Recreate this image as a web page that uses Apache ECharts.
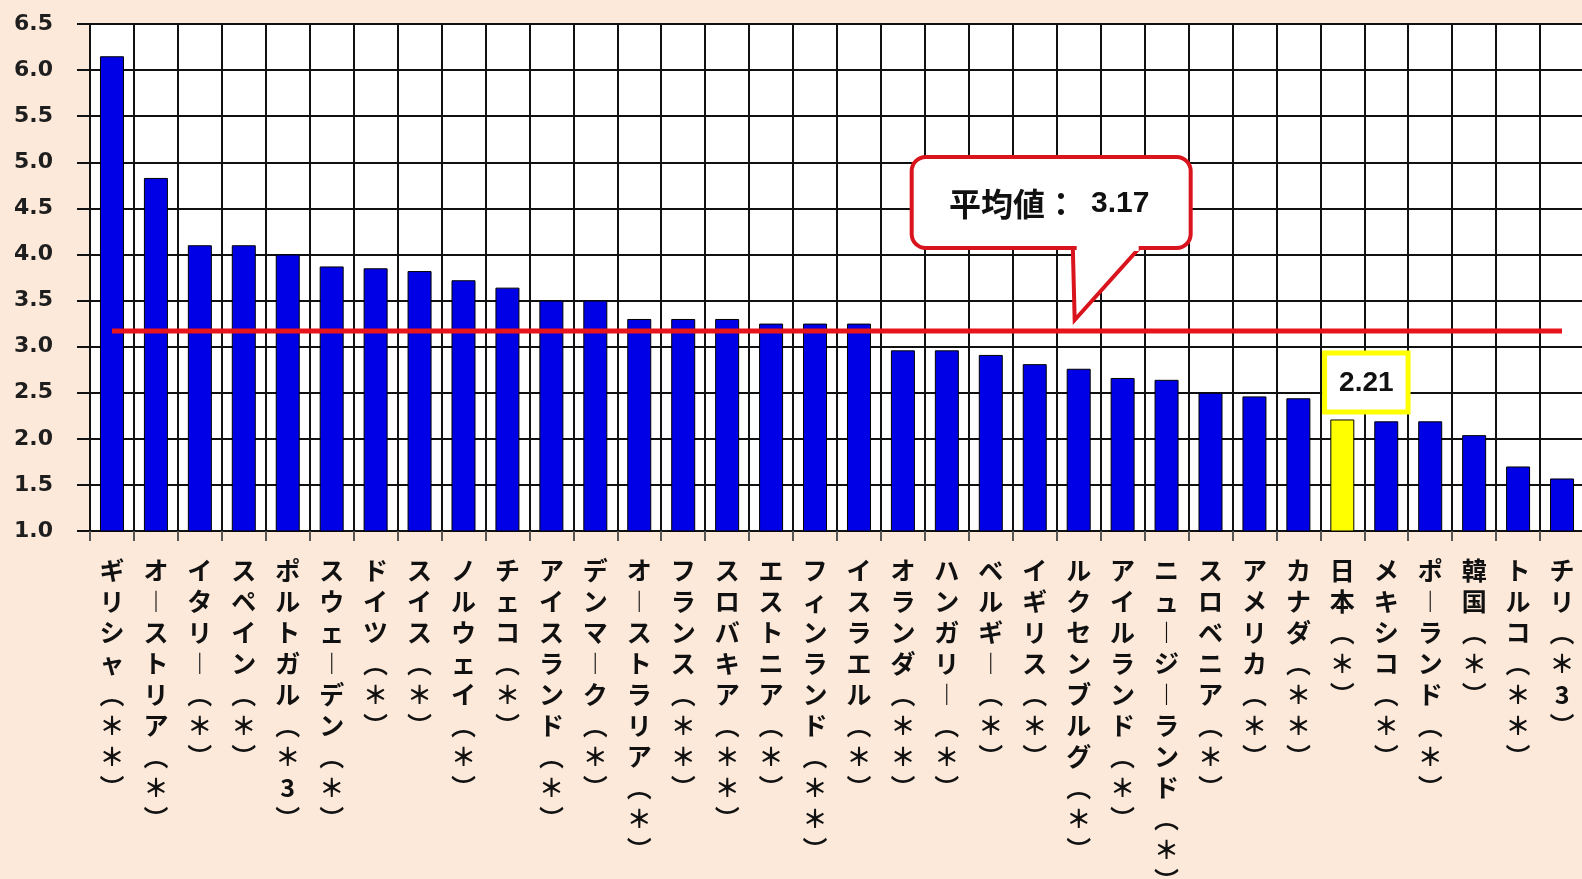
<!DOCTYPE html>
<html>
<head>
<meta charset="utf-8">
<script src="https://cdn.jsdelivr.net/npm/echarts@6/dist/echarts.min.js"></script>
<style>
  html, body { margin: 0; padding: 0; background: #fce9da; }
  #chart { width: 1582px; height: 879px; }
</style>
</head>
<body>
<div id="chart"></div>
<script>
// Countries (sorted by value), with footnote marks
const countries = [
  'ギリシャ(＊＊)', 'オーストリア(＊)', 'イタリー(＊)', 'スペイン(＊)', 'ポルトガル(＊3)',
  'スウェーデン(＊)', 'ドイツ(＊)', 'スイス(＊)', 'ノルウェイ(＊)', 'チェコ(＊)',
  'アイスランド(＊)', 'デンマーク(＊)', 'オーストラリア(＊)', 'フランス(＊＊)', 'スロバキア(＊＊)',
  'エストニア(＊)', 'フィンランド(＊＊)', 'イスラエル(＊)', 'オランダ(＊＊)', 'ハンガリー(＊)',
  'ベルギー(＊)', 'イギリス(＊)', 'ルクセンブルグ(＊)', 'アイルランド(＊)', 'ニュージーランド(＊)',
  'スロベニア(＊)', 'アメリカ(＊)', 'カナダ(＊＊)', '日本(＊)', 'メキシコ(＊)',
  'ポーランド(＊)', '韓国(＊)', 'トルコ(＊＊)', 'チリ(＊3)'
];
const values = [
  6.15, 4.83, 4.10, 4.10, 4.00,
  3.87, 3.85, 3.82, 3.72, 3.64,
  3.50, 3.50, 3.30, 3.30, 3.30,
  3.25, 3.25, 3.25, 2.96, 2.96,
  2.91, 2.81, 2.76, 2.66, 2.64,
  2.50, 2.46, 2.44, 2.21, 2.19,
  2.19, 2.04, 1.70, 1.57
];
const averageValue = 3.17;
const averageLabel = '平均値：';
const highlightCountry = '日本(＊)';
const calloutAnchorCountry = 'ルクセンブルグ(＊)';
const yMin = 1.0, yMax = 6.5, yStep = 0.5;

// Stack characters top-to-bottom, using vertical presentation forms
function verticalText(name) {
  const forms = { '(': '︵', ')': '︶', 'ー': '︱' };
  return Array.from(name).map(ch => forms[ch] || ch).join('\n');
}

const chart = echarts.init(document.getElementById('chart'), null, { renderer: 'canvas' });

const option = {
  backgroundColor: '#fce9da',
  animation: false,
  grid: {
    left: 90, top: 24, width: 1494, height: 507,
    show: true, backgroundColor: '#ffffff', borderColor: '#111', borderWidth: 2,
    outerBoundsMode: 'none'
  },
  xAxis: {
    type: 'category',
    data: countries,
    boundaryGap: true,
    axisLine: { show: true, lineStyle: { color: '#111', width: 2 } },
    axisTick: { show: true, length: 10, interval: 0, lineStyle: { color: '#555', width: 2 } },
    axisLabel: {
      interval: 0, margin: 24, formatter: verticalText,
      fontFamily: 'Noto Sans CJK JP', fontWeight: 'bold', fontSize: 25, lineHeight: 31, color: '#111'
    },
    splitLine: { show: true, interval: 0, lineStyle: { color: '#111', width: 2 } }
  },
  yAxis: {
    type: 'value',
    min: yMin, max: yMax, interval: yStep,
    axisLine: { show: true, lineStyle: { color: '#111', width: 2 } },
    axisTick: { show: true, length: 13, lineStyle: { color: '#111', width: 2 } },
    axisLabel: {
      margin: 37, formatter: v => v.toFixed(1),
      fontFamily: 'DejaVu Sans', fontWeight: 'bold', fontSize: 22, color: '#1e1e1e'
    },
    splitLine: { show: true, lineStyle: { color: '#111', width: 2 } }
  },
  series: [
    {
      type: 'bar',
      barWidth: 24,
      itemStyle: { color: '#0000e6', borderColor: '#000', borderWidth: 1 },
      data: values.map((v, i) => {
        if (countries[i] !== highlightCountry) return v;
        return {
          value: v,
          itemStyle: { color: '#ffff00' },
          label: {
            show: true, position: 'top', distance: 10, offset: [24, 0],
            formatter: p => p.value.toFixed(2),
            fontFamily: 'Liberation Sans', fontWeight: 'bold', fontSize: 28, color: '#111',
            backgroundColor: '#ffffff', borderColor: '#ffff00', borderWidth: 5,
            padding: [14, 12, 12, 12]
          }
        };
      })
    },
    {
      type: 'line',
      data: countries.map(() => averageValue),
      symbol: 'none',
      silent: true,
      z: 5,
      lineStyle: { color: '#e8141c', width: 5 }
    }
  ]
};

chart.setOption(option);

// Speech-bubble callout pointing at the average line
const [ax, ay] = chart.convertToPixel({ xAxisIndex: 0, yAxisIndex: 0 },
  [calloutAnchorCountry, averageValue]);
const boxLeft = ax - 167, boxTop = ay - 174, boxW = 279, boxH = 91;
const boxBottom = boxTop + boxH;
const bubbleRed = '#d9141c';

chart.setOption({
  graphic: [
    {
      type: 'polygon', z: 100,
      shape: { points: [[ax - 6, boxBottom - 6], [ax - 4, ay - 11], [ax + 66, boxBottom - 6]] },
      style: { fill: '#fff', stroke: bubbleRed, lineWidth: 4, lineJoin: 'miter' }
    },
    {
      type: 'rect', z: 101,
      shape: { x: boxLeft, y: boxTop, width: boxW, height: boxH, r: 14 },
      style: { fill: '#fff', stroke: bubbleRed, lineWidth: 4 }
    },
    {
      type: 'rect', z: 102,
      shape: { x: ax - 2, y: boxBottom - 6, width: 62, height: 9 },
      style: { fill: '#fff' }
    },
    {
      type: 'text', z: 103,
      style: {
        x: boxLeft + boxW / 2 - 2, y: boxTop + boxH / 2 + 1,
        align: 'center', verticalAlign: 'middle',
        text: '{a|' + averageLabel + '}{b|' + averageValue.toFixed(2) + '}',
        rich: {
          a: { fontFamily: 'Noto Sans CJK JP', fontSize: 32, fontWeight: 'bold', fill: '#111' },
          b: { fontFamily: 'Liberation Sans', fontSize: 30, fontWeight: 'bold', fill: '#111', padding: [0, 0, 0, 14] }
        }
      }
    }
  ]
});
</script>
</body>
</html>
